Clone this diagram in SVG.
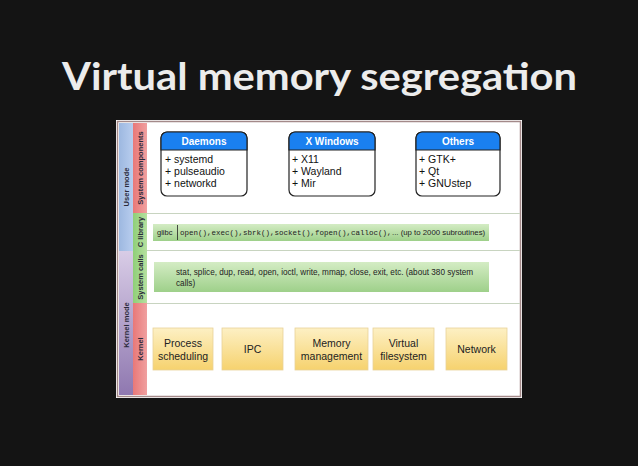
<svg xmlns="http://www.w3.org/2000/svg" width="638" height="466" viewBox="0 0 638 466">
<defs>
<linearGradient id="gBlueCol" x1="0" y1="0" x2="1" y2="0"><stop offset="0" stop-color="#9db8e0"/><stop offset="1" stop-color="#b8cdee"/></linearGradient>
<linearGradient id="gPurpCol" x1="0" y1="0" x2="0" y2="1"><stop offset="0" stop-color="#d8cce6"/><stop offset="1" stop-color="#8f78b0"/></linearGradient>
<linearGradient id="gRedCol" x1="0" y1="0" x2="1" y2="0"><stop offset="0" stop-color="#e87878"/><stop offset="1" stop-color="#f0a0a0"/></linearGradient>
<linearGradient id="gGreenCol" x1="0" y1="0" x2="1" y2="0"><stop offset="0" stop-color="#8fcf78"/><stop offset="1" stop-color="#b6e0a0"/></linearGradient>
<linearGradient id="gBar" x1="0" y1="0" x2="0" y2="1"><stop offset="0" stop-color="#d4ecc4"/><stop offset="1" stop-color="#9ed08a"/></linearGradient>
<linearGradient id="gYellow" x1="0" y1="0" x2="0" y2="1"><stop offset="0" stop-color="#fdf0c4"/><stop offset="1" stop-color="#f6d26e"/></linearGradient>
</defs>
<style>
.title{font-family:Lato,"Open Sans",sans-serif;font-weight:bold;font-size:38px;fill:#ececec}
.side{font-family:"Liberation Sans",Arial,sans-serif;font-size:7.5px;font-weight:bold;fill:#2a2a3a}
.hdr{font-family:"Liberation Sans",Arial,sans-serif;font-size:10px;font-weight:bold;fill:#fff}
.item{font-family:"Liberation Sans",Arial,sans-serif;font-size:10.5px;fill:#111}
.small{font-family:"Liberation Sans",Arial,sans-serif;font-size:7.5px;fill:#222}
.mono{font-family:"Liberation Mono","Courier New",monospace;font-size:7.5px;fill:#222}
.kern{font-family:"Liberation Sans",Arial,sans-serif;font-size:10.5px;fill:#222}
.sep{stroke:#c8d4c0;stroke-width:1}
.box{fill:#fff;stroke:#222;stroke-width:1.2}
.ybox{fill:url(#gYellow);stroke:#e8d29a;stroke-width:0.8}
</style>
<rect width="638" height="466" fill="#141414"/>
<text class="title" x="62" y="90" textLength="515" lengthAdjust="spacingAndGlyphs">Virtual memory segregation</text>

<g id="frame">
<rect x="116" y="120" width="406" height="278" fill="#fff"/>
<rect x="117.5" y="121.5" width="403" height="275" fill="none" stroke="#a48a8a" stroke-width="1.5"/>
</g>

<g id="side-columns">
<rect x="119" y="123" width="14" height="128" fill="url(#gBlueCol)"/>
<rect x="119" y="251" width="14" height="144" fill="url(#gPurpCol)"/>
<rect x="133" y="123" width="14" height="90" fill="url(#gRedCol)"/>
<rect x="133" y="213" width="14" height="38" fill="url(#gGreenCol)"/>
<rect x="133" y="251" width="14" height="52" fill="url(#gGreenCol)"/>
<rect x="133" y="303" width="14" height="92" fill="url(#gRedCol)"/>
<text class="side" transform="translate(129,187) rotate(-90)" text-anchor="middle">User mode</text>
<text class="side" transform="translate(129,325) rotate(-90)" text-anchor="middle">Kernel mode</text>
<text class="side" transform="translate(143,168) rotate(-90)" text-anchor="middle">System components</text>
<text class="side" transform="translate(143,232) rotate(-90)" text-anchor="middle">C library</text>
<text class="side" transform="translate(143,277) rotate(-90)" text-anchor="middle">System calls</text>
<text class="side" transform="translate(143,349) rotate(-90)" text-anchor="middle">Kernel</text>
</g>

<g id="separators">
<line class="sep" x1="147" y1="213.5" x2="520" y2="213.5"/>
<line class="sep" x1="147" y1="250.5" x2="520" y2="250.5"/>
<line class="sep" x1="147" y1="303.5" x2="520" y2="303.5"/>
</g>

<g id="daemons">
<rect class="box" x="161" y="132" width="86" height="64" rx="6"/>
<path d="M161,150 V138 a6,6 0 0 1 6,-6 H241 a6,6 0 0 1 6,6 V150 Z" fill="#1a80f0" stroke="#222" stroke-width="1.2"/>
<text class="hdr" x="204" y="145" text-anchor="middle">Daemons</text>
<text class="item" x="165" y="163">+ systemd</text>
<text class="item" x="165" y="175">+ pulseaudio</text>
<text class="item" x="165" y="187">+ networkd</text>
</g>

<g id="xwindows">
<rect class="box" x="289" y="132" width="86" height="64" rx="6"/>
<path d="M289,150 V138 a6,6 0 0 1 6,-6 H369 a6,6 0 0 1 6,6 V150 Z" fill="#1a80f0" stroke="#222" stroke-width="1.2"/>
<text class="hdr" x="332" y="145" text-anchor="middle">X Windows</text>
<text class="item" x="292" y="163">+ X11</text>
<text class="item" x="292" y="175">+ Wayland</text>
<text class="item" x="292" y="187">+ Mir</text>
</g>

<g id="others">
<rect class="box" x="416" y="132" width="84" height="64" rx="6"/>
<path d="M416,150 V138 a6,6 0 0 1 6,-6 H494 a6,6 0 0 1 6,6 V150 Z" fill="#1a80f0" stroke="#222" stroke-width="1.2"/>
<text class="hdr" x="458" y="145" text-anchor="middle">Others</text>
<text class="item" x="419" y="163">+ GTK+</text>
<text class="item" x="419" y="175">+ Qt</text>
<text class="item" x="419" y="187">+ GNUstep</text>
</g>

<g id="clibrary">
<rect x="153" y="224" width="336" height="17" fill="url(#gBar)"/>
<text class="small" x="157" y="235">glibc</text>
<line x1="177.5" y1="225" x2="177.5" y2="240" stroke="#222" stroke-width="0.8"/>
<text class="mono" x="180" y="235">open(),exec(),sbrk(),socket(),fopen(),calloc(),</text>
<text class="small" x="392" y="235" style="font-size:7.8px">... (up to 2000 subroutines)</text>
</g>

<g id="syscalls">
<rect x="154" y="262" width="335" height="30" fill="url(#gBar)"/>
<text class="small" x="176" y="275" style="font-size:8.2px">stat, splice, dup, read, open, ioctl, write, mmap, close, exit, etc. (about 380 system</text>
<text class="small" x="176" y="286" style="font-size:8.2px">calls)</text>
</g>

<g id="process-scheduling">
<rect class="ybox" x="153" y="328" width="60" height="42"/>
<text class="kern" x="183" y="347" text-anchor="middle">Process</text>
<text class="kern" x="183" y="360" text-anchor="middle">scheduling</text>
</g>
<g id="ipc">
<rect class="ybox" x="222" y="328" width="61" height="42"/>
<text class="kern" x="252.5" y="353" text-anchor="middle">IPC</text>
</g>
<g id="memory-management">
<rect class="ybox" x="295" y="328" width="73" height="42"/>
<text class="kern" x="331.5" y="347" text-anchor="middle">Memory</text>
<text class="kern" x="331.5" y="360" text-anchor="middle">management</text>
</g>
<g id="virtual-filesystem">
<rect class="ybox" x="373" y="328" width="61" height="42"/>
<text class="kern" x="403.5" y="347" text-anchor="middle">Virtual</text>
<text class="kern" x="403.5" y="360" text-anchor="middle">filesystem</text>
</g>
<g id="network">
<rect class="ybox" x="446" y="328" width="61" height="42"/>
<text class="kern" x="476.5" y="353" text-anchor="middle">Network</text>
</g>
</svg>
